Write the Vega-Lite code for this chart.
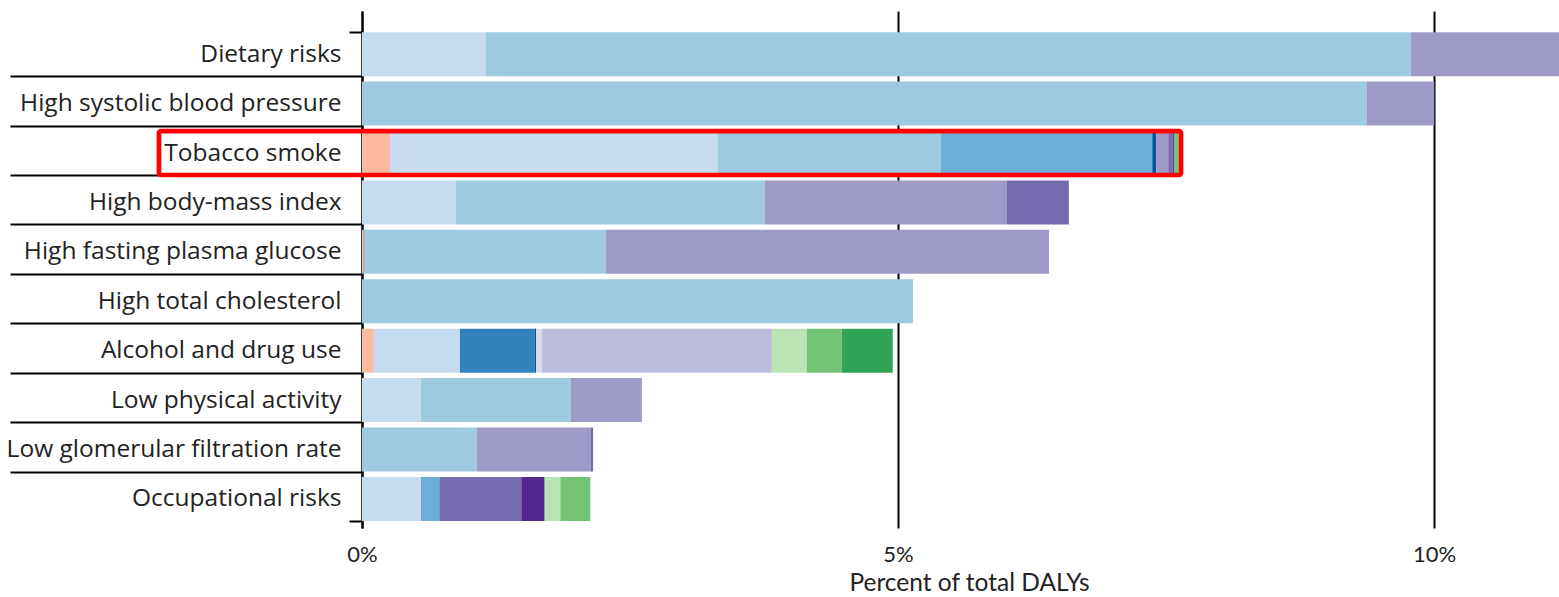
{
  "$schema": "https://vega.github.io/schema/vega-lite/v6.json",
  "width": 1197,
  "height": 517,
  "autosize": {"type": "none"},
  "padding": {"left": 362, "top": 11, "right": 0, "bottom": 69},
  "background": "white",
  "config": {"view": {"stroke": null}, "font": "Open Sans"},
  "layer": [
    {
      "data": {
        "values": [
          {"risk": "Dietary risks", "cause": "Neoplasms", "pct": 1.157},
          {"risk": "Dietary risks", "cause": "Cardiovascular diseases", "pct": 8.626},
          {"risk": "Dietary risks", "cause": "Diabetes and kidney diseases", "pct": 1.55},
          {"risk": "High systolic blood pressure", "cause": "Cardiovascular diseases", "pct": 9.37},
          {"risk": "High systolic blood pressure", "cause": "Diabetes and kidney diseases", "pct": 0.632},
          {"risk": "Tobacco smoke", "cause": "Respiratory infections and tuberculosis", "pct": 0.266},
          {"risk": "Tobacco smoke", "cause": "Neoplasms", "pct": 3.055},
          {"risk": "Tobacco smoke", "cause": "Cardiovascular diseases", "pct": 2.08},
          {"risk": "Tobacco smoke", "cause": "Chronic respiratory diseases", "pct": 1.971},
          {"risk": "Tobacco smoke", "cause": "Neurological disorders", "pct": 0.037},
          {"risk": "Tobacco smoke", "cause": "Diabetes and kidney diseases", "pct": 0.112},
          {"risk": "Tobacco smoke", "cause": "Musculoskeletal disorders", "pct": 0.041},
          {"risk": "Tobacco smoke", "cause": "Sense organ diseases", "pct": 0.012},
          {"risk": "Tobacco smoke", "cause": "Unintentional injuries", "pct": 0.044},
          {"risk": "High body-mass index", "cause": "Neoplasms", "pct": 0.877},
          {"risk": "High body-mass index", "cause": "Cardiovascular diseases", "pct": 2.882},
          {"risk": "High body-mass index", "cause": "Diabetes and kidney diseases", "pct": 2.257},
          {"risk": "High body-mass index", "cause": "Musculoskeletal disorders", "pct": 0.578},
          {"risk": "High fasting plasma glucose", "cause": "Respiratory infections and tuberculosis", "pct": 0.015},
          {"risk": "High fasting plasma glucose", "cause": "Cardiovascular diseases", "pct": 2.26},
          {"risk": "High fasting plasma glucose", "cause": "Diabetes and kidney diseases", "pct": 4.134},
          {"risk": "High total cholesterol", "cause": "Cardiovascular diseases", "pct": 5.14},
          {"risk": "Alcohol and drug use", "cause": "Respiratory infections and tuberculosis", "pct": 0.11},
          {"risk": "Alcohol and drug use", "cause": "Neoplasms", "pct": 0.803},
          {"risk": "Alcohol and drug use", "cause": "Digestive diseases", "pct": 0.696},
          {"risk": "Alcohol and drug use", "cause": "Neurological disorders", "pct": 0.015},
          {"risk": "Alcohol and drug use", "cause": "Mental disorders", "pct": 0.053},
          {"risk": "Alcohol and drug use", "cause": "Substance use disorders", "pct": 2.146},
          {"risk": "Alcohol and drug use", "cause": "Transport injuries", "pct": 0.325},
          {"risk": "Alcohol and drug use", "cause": "Unintentional injuries", "pct": 0.328},
          {"risk": "Alcohol and drug use", "cause": "Self-harm and interpersonal violence", "pct": 0.475},
          {"risk": "Low physical activity", "cause": "Neoplasms", "pct": 0.55},
          {"risk": "Low physical activity", "cause": "Cardiovascular diseases", "pct": 1.399},
          {"risk": "Low physical activity", "cause": "Diabetes and kidney diseases", "pct": 0.662},
          {"risk": "Low glomerular filtration rate", "cause": "Cardiovascular diseases", "pct": 1.073},
          {"risk": "Low glomerular filtration rate", "cause": "Diabetes and kidney diseases", "pct": 1.063},
          {"risk": "Low glomerular filtration rate", "cause": "Musculoskeletal disorders", "pct": 0.02},
          {"risk": "Occupational risks", "cause": "Neoplasms", "pct": 0.55},
          {"risk": "Occupational risks", "cause": "Chronic respiratory diseases", "pct": 0.171},
          {"risk": "Occupational risks", "cause": "Musculoskeletal disorders", "pct": 0.765},
          {"risk": "Occupational risks", "cause": "Sense organ diseases", "pct": 0.218},
          {"risk": "Occupational risks", "cause": "Transport injuries", "pct": 0.146},
          {"risk": "Occupational risks", "cause": "Unintentional injuries", "pct": 0.28}
        ]
      },
      "transform": [
        {"calculate": "indexof(['Respiratory infections and tuberculosis','Neoplasms','Cardiovascular diseases','Chronic respiratory diseases','Digestive diseases','Neurological disorders','Mental disorders','Substance use disorders','Diabetes and kidney diseases','Musculoskeletal disorders','Sense organ diseases','Transport injuries','Unintentional injuries','Self-harm and interpersonal violence'], datum.cause)", "as": "ord"}
      ],
      "mark": {"type": "bar", "clip": true},
      "encoding": {
        "y": {
          "field": "risk",
          "type": "nominal",
          "scale": {
            "domain": ["Dietary risks", "High systolic blood pressure", "Tobacco smoke", "High body-mass index", "High fasting plasma glucose", "High total cholesterol", "Alcohol and drug use", "Low physical activity", "Low glomerular filtration rate", "Occupational risks"],
            "paddingInner": 0.11,
            "paddingOuter": 0.286,
            "align": 0.75
          },
          "axis": {
            "title": null,
            "domain": true,
            "domainColor": "#000000",
            "domainWidth": 2,
            "ticks": true,
            "tickBand": "extent",
            "tickColor": "#000000",
            "tickWidth": 2,
            "tickSize": {"condition": {"test": "datum.index === 1 || datum.index === -1", "value": 13}, "value": 352},
            "labelPadding": {"condition": {"test": "datum.index === 1 || datum.index === -1", "value": 8}, "value": -331},
            "labelFont": "Open Sans",
            "labelFontSize": 24.5,
            "labelColor": "#222222",
            "labelLimit": 500
          }
        },
        "x": {
          "field": "pct",
          "type": "quantitative",
          "stack": "zero",
          "scale": {"domain": [0, 11.166], "nice": false},
          "axis": {
            "title": "Percent of total DALYs",
            "values": [0, 5, 10],
            "labelExpr": "datum.value + '%'",
            "grid": true,
            "gridColor": "#000000",
            "gridWidth": 2,
            "ticks": false,
            "domain": false,
            "labelFlush": false,
            "labelFont": "Lato",
            "labelFontSize": 22,
            "labelColor": "#222222",
            "labelPadding": 16,
            "titleFont": "Lato",
            "titleFontSize": 24.5,
            "titleFontWeight": "normal",
            "titleColor": "#222222",
            "titlePadding": 6,
            "titleX": 607
          }
        },
        "color": {
          "field": "cause",
          "type": "nominal",
          "scale": {
            "domain": ["Respiratory infections and tuberculosis", "Neoplasms", "Cardiovascular diseases", "Chronic respiratory diseases", "Digestive diseases", "Neurological disorders", "Mental disorders", "Substance use disorders", "Diabetes and kidney diseases", "Musculoskeletal disorders", "Sense organ diseases", "Transport injuries", "Unintentional injuries", "Self-harm and interpersonal violence"],
            "range": ["#fcbba1", "#c6dbef", "#9ecae1", "#6baed6", "#3182bd", "#08519c", "#dadaeb", "#bcbddc", "#9e9ac8", "#756bb1", "#54278f", "#bae4b3", "#74c476", "#31a354"]
          },
          "legend": null
        },
        "order": {"field": "ord", "type": "quantitative"}
      }
    },
    {
      "data": {"values": [{"highlight": "Tobacco smoke"}]},
      "mark": {"type": "rect", "fill": null, "stroke": "#ff0000", "strokeWidth": 4.7, "cornerRadius": 2, "clip": false},
      "encoding": {
        "y": {"field": "highlight", "type": "nominal"},
        "x": {"datum": -1.894, "type": "quantitative"},
        "x2": {"datum": 7.64}
      }
    }
  ]
}
